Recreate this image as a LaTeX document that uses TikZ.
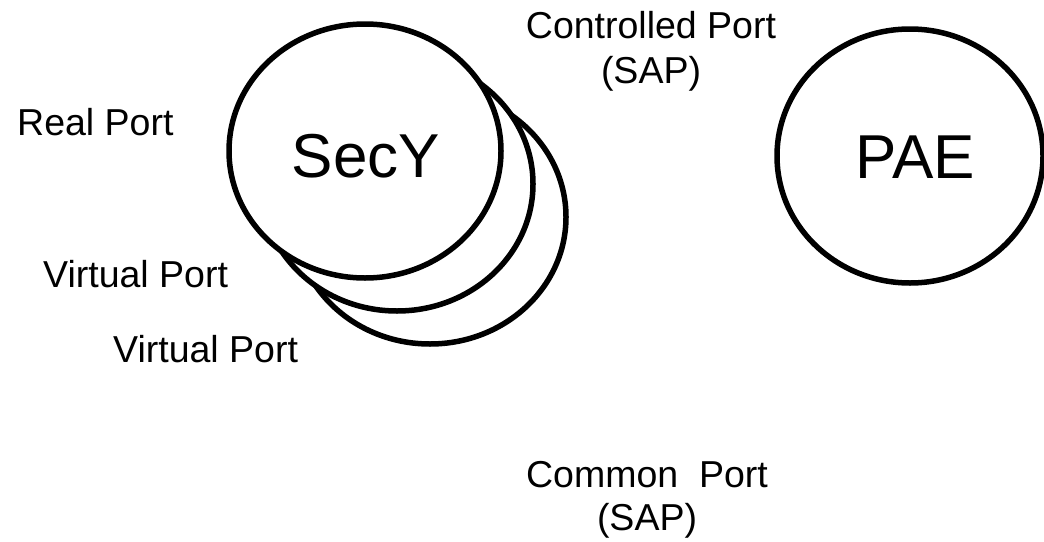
\documentclass[tikz,border=0pt]{standalone}
\usepackage{fontspec}
\setmainfont{Liberation Sans}
\usetikzlibrary{shapes.geometric}
\begin{document}
\begin{tikzpicture}[x=1pt,y=-1pt,
  port/.style={ellipse, draw, line width=5.5pt, fill=white, inner sep=0pt,
               minimum width=272pt, minimum height=254pt},
  lbl/.style={inner sep=0pt, font=\fontsize{37.5}{45}\selectfont},
  big/.style={inner sep=0pt, font=\fontsize{62}{70}\selectfont}]
  \useasboundingbox (0,0) rectangle (1044,541);
  % SecY stack: two virtual ports behind the real one
  \node[port] (v2) at (430,217) {};
  \node[port] (v1) at (397,184) {};
  \node[port] (secy) at (365,151) {};
  \node[big, anchor=base] (secytxt) at (366,177) {SecY};
  % PAE
  \node[port, minimum width=266pt] (pae) at (910,156) {};
  \node[big, anchor=base] (paetxt) at (915,178) {PAE};
  % labels
  \node[lbl, anchor=base west] (real) at (17,135) {Real Port};
  \node[lbl, anchor=base west] (virt1) at (43,287) {Virtual Port};
  \node[lbl, anchor=base west] (virt2) at (113,362) {Virtual Port};
  \node[lbl, anchor=base] (ctrl) at (651,38) {Controlled Port};
  \node[lbl, anchor=base] (ctrlsap) at (651,83) {(SAP)};
  \node[lbl, anchor=base] (comm) at (647,487) {Common\ \ Port};
  \node[lbl, anchor=base] (commsap) at (647,530) {(SAP)};
\end{tikzpicture}
\end{document}
